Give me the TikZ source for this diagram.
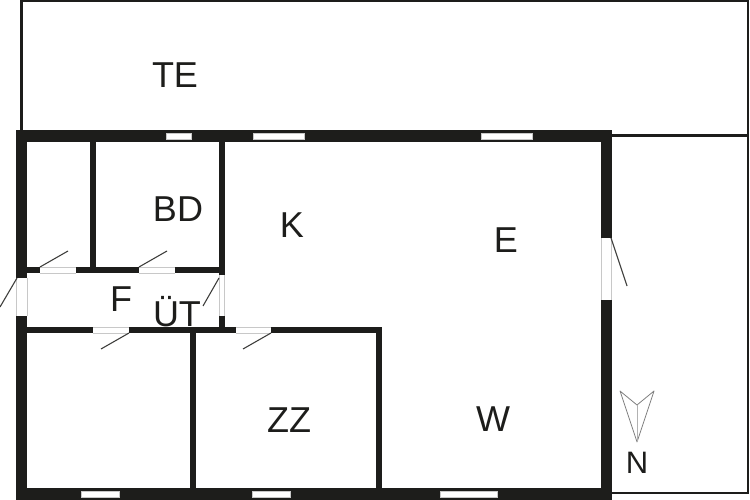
\documentclass[tikz,border=0pt]{standalone}
\usepackage{fontspec}
\setmainfont{Liberation Sans}
\definecolor{wall}{HTML}{1D1D1B}
\definecolor{gap}{HTML}{C8C8C8}
\tikzset{
	room/.style={font=\fontsize{36}{36}\selectfont,text=wall,inner sep=0pt},
	swing/.style={draw=wall!85,line width=1.1pt},
	pane/.style={fill=white,draw=gap,line width=0.6pt},
	outline/.style={draw=wall,line width=2.4pt},
}
\begin{document}
\begin{tikzpicture}[x=1pt,y=-1pt]
	\useasboundingbox (0,0) rectangle (750,500);
	\fill[white] (0,0) rectangle (750,500);
	% terrace
	\draw[outline] (21.5,130) -- (21.5,1.2) -- (748,1.2) -- (748,493) -- (611,493);
	\draw[outline] (611,135.5) -- (748,135.5);
	% walls
	\foreach \xa/\ya/\xb/\yb in {16/130/612/142, 16/488/612/499.5, 16/130/27/278, 16/316/27/499.5,
		601/130/612/238, 601/300/612/499.5,
		90/142/96/273, 219/142/225/275, 219/316/225/333, 190/333/196/488, 376/327/382/488,
		27/267/40/273, 76/267/139/273, 175/267/225/273,
		27/327/93/333, 129/327/236/333, 271/327/382/333}
		\fill[wall] (\xa,\ya) rectangle (\xb,\yb);
	% windows
	\foreach \xa/\xb in {166/191, 253/304, 481/532}
		\draw[pane] (\xa,133) rectangle (\xb,139.5);
	\foreach \xa/\xb in {81/119, 252/290, 440/497}
		\draw[pane] (\xa,491) rectangle (\xb,497);
	% door gaps
	\draw[gap,line width=0.6pt] (16.5,278) -- (16.5,316) (27,278) -- (27,316);
	\draw[gap,line width=0.6pt] (601,238) -- (601,300) (611.5,238) -- (611.5,300);
	\draw[gap,line width=0.6pt] (219,275) -- (219,316) (224.5,275) -- (224.5,316);
	\foreach \xa/\xb in {40/76, 139/175}
		\draw[gap,line width=0.6pt] (\xa,267) -- (\xb,267) (\xa,273) -- (\xb,273);
	\foreach \xa/\xb in {93/129, 236/271}
		\draw[gap,line width=0.6pt] (\xa,327) -- (\xb,327) (\xa,333) -- (\xb,333);
	% door leaves
	\foreach \xa/\ya/\xb/\yb in {40/267/68/251, 139/267/167/251, 17/278/0/307, 219/278/203/306,
		129/333/101/349, 271/333/243/349, 611/238/627/286}
		\draw[swing] (\xa,\ya) -- (\xb,\yb);
	% north arrow
	\coordinate (tip) at (637,442);
	\coordinate (nl) at (620,391);
	\coordinate (nc) at (637,405);
	\coordinate (nr) at (654,391);
	\draw[gray,line width=0.8pt,line join=round] (tip) -- (nl) -- (nc) -- (nr) -- cycle;
	\draw[gray!60,line width=0.8pt] (nc) -- (tip);
	% labels
	\node[room] (te) at (175,75) {TE};
	\node[room] (bd) at (178,209) {BD};
	\node[room] (k) at (292,225) {K};
	\node[room] (e) at (506,240) {E};
	\node[room] (f) at (121,299) {F};
	\node[room] (ut) at (177,312) {ÜT};
	\node[room] (zz) at (289,420) {ZZ};
	\node[room] (w) at (493,419) {W};
	\node[room,font=\fontsize{31}{31}\selectfont] (n) at (637,463) {N};
\end{tikzpicture}
\end{document}
